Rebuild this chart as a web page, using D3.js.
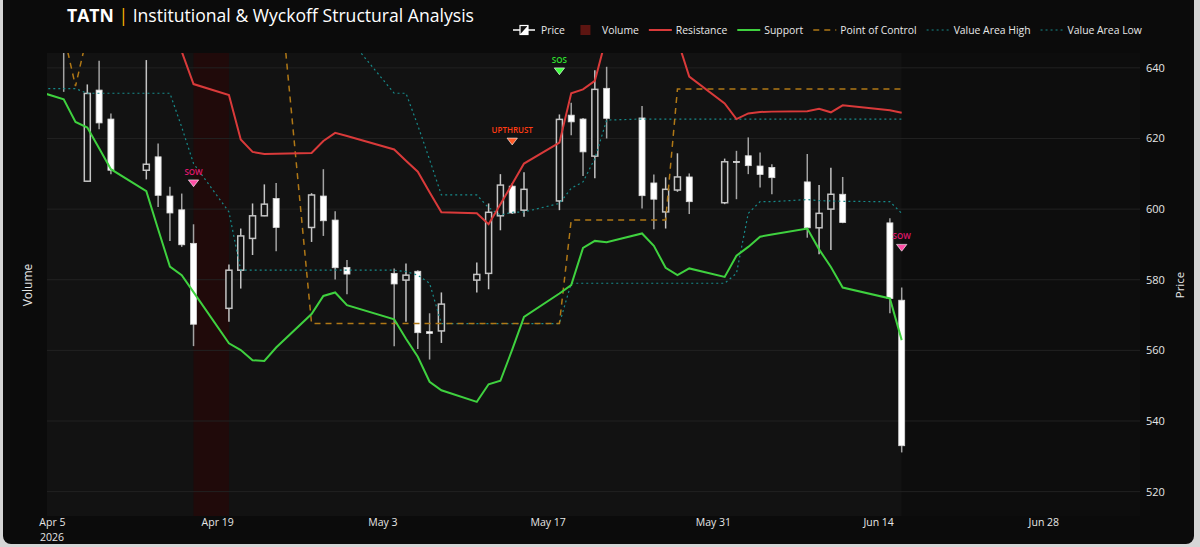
<!DOCTYPE html>
<html>
<head>
<meta charset="utf-8">
<script src="https://cdn.jsdelivr.net/npm/d3@7"></script>
<style>
  html, body { margin: 0; padding: 0; background: #d6d6d6; }
  svg { display: block; font-family: "Open Sans", "DejaVu Sans", sans-serif; }
  text { white-space: pre; }
</style>
</head>
<body>
<svg id="chart" width="1200" height="547"></svg>
<script>
// ---- data ----
const dates = [
  '2026-04-03','2026-04-06','2026-04-07','2026-04-08','2026-04-09','2026-04-10','2026-04-13','2026-04-14','2026-04-15','2026-04-16',
  '2026-04-17','2026-04-20','2026-04-21','2026-04-22','2026-04-23','2026-04-24','2026-04-27','2026-04-28','2026-04-29','2026-04-30',
  '2026-05-04','2026-05-05','2026-05-06','2026-05-07','2026-05-08','2026-05-11','2026-05-12','2026-05-13','2026-05-14','2026-05-15',
  '2026-05-18','2026-05-19','2026-05-20','2026-05-21','2026-05-22','2026-05-25','2026-05-26','2026-05-27','2026-05-28','2026-05-29',
  '2026-06-01','2026-06-02','2026-06-03','2026-06-04','2026-06-05','2026-06-08','2026-06-09','2026-06-10','2026-06-11','2026-06-15',
  '2026-06-16'
];
const opens = [
  655, 652, 650, 607.9, 633.7, 625.5, 611.0, 614.8, 603.7, 599.8,
  590.3, 571.9, 582.7, 591.7, 598.1, 603.0, 594.8, 603.7, 596.9, 583.5,
  581.8, 579.9, 582.4, 565.3, 565.5, 579.9, 581.8, 598.1, 606.5, 599.7,
  602.3, 626.6, 625.5, 615.0, 634.2, 625.8, 607.4, 599.2, 605.4, 609.1,
  601.8, 613.5, 615.1, 612.2, 611.8, 607.7, 594.7, 600.0, 604.2, 596.1,
  574.2
];
const highs = [
  661, 657, 658, 635.3, 642.0, 627.1, 642.2, 618.6, 606.3, 604.4,
  595.7, 584.3, 594.5, 601.6, 607.0, 607.4, 604.5, 611.3, 599.4, 585.6,
  583.2, 584.6, 582.7, 570.5, 576.4, 584.9, 601.6, 609.9, 607.3, 610.4,
  626.8, 630.1, 625.8, 639.3, 640.3, 629.2, 609.8, 609.0, 615.8, 610.1,
  614.3, 616.5, 620.3, 616.0, 612.7, 615.6, 606.8, 611.7, 609.1, 597.4,
  577.8
];
const lows = [
  648, 633.2, 645.5, 607.7, 622.6, 609.9, 608.4, 600.6, 591.0, 589.3,
  561.2, 568.1, 577.5, 587.0, 598.0, 588.1, 590.7, 592.4, 580.1, 575.9,
  561.2, 568.1, 560.4, 557.4, 562.1, 576.4, 577.3, 594.0, 598.6, 597.8,
  599.7, 620.9, 609.4, 608.7, 620.0, 600.2, 594.3, 594.5, 604.9, 598.6,
  601.4, 602.8, 609.9, 606.1, 604.2, 591.9, 587.2, 588.4, 596.0, 570.5,
  531.1
];
const closes = [
  652, 646, 655, 632.75, 624.4, 611.0, 612.7, 603.9, 598.9, 589.9,
  567.4, 582.7, 592.4, 598.1, 601.4, 594.8, 604.0, 596.7, 583.4, 581.6,
  578.8, 581.3, 565.0, 564.8, 573.1, 581.5, 599.1, 606.8, 598.9, 605.6,
  625.4, 624.7, 616.2, 633.9, 625.7, 603.8, 602.8, 605.6, 609.1, 602.1,
  613.4, 613.3, 612.3, 609.8, 608.9, 594.7, 598.8, 604.2, 596.2, 574.7,
  533.0
];
const resistance = [
  662, 661, 660, 660, 660, 660, 660, 660, 658, 644.6,
  635.4, 632.3, 619.7, 616.2, 615.6, 615.7, 615.9, 619.3, 621.6, 620.7,
  616.9, 613.7, 610.6, 604.8, 599.1, 598.8, 595.7, 601.4, 607.1, 612.9,
  618.8, 632.8, 633.9, 636.3, 649, 652, 652, 650, 648, 637.5,
  629.9, 625.5, 627.1, 627.5, 627.6, 627.7, 628.4, 627.4, 629.4, 628.0,
  627.3
];
const support = [
  634.2, 631.1, 624.7, 623.1, 617.2, 611.3, 605.1, 594.3, 583.7, 581.3,
  576.5, 562.0, 560.1, 557.2, 557.0, 560.8, 570.3, 575.4, 576.4, 572.8,
  568.8, 563.3, 558.2, 551.1, 548.7, 545.4, 550.4, 551.4, 560.2, 569.5,
  576.1, 578.5, 589.0, 591.0, 590.6, 593.1, 589.6, 583.4, 581.3, 583.2,
  580.8, 586.8, 589.3, 592.2, 592.8, 594.5, 588.6, 583.6, 577.8, 574.7,
  562.9
];
const pointOfControl = [
  652, 649.6, 634.8, 649.3, 673, 673, 673, 673, 673, 673,
  673, 673, 673, 673, 673, 673, 567.6, 567.6, 567.6, 567.6,
  567.6, 567.6, 567.6, 567.6, 567.6, 567.6, 567.6, 567.6, 567.6, 567.6,
  567.6, 596.9, 596.9, 596.9, 596.9, 596.9, 596.9, 596.9, 634.0, 634.0,
  634.0, 634.0, 634.0, 634.0, 634.0, 634.0, 634.0, 634.0, 634.0, 634.0,
  634.0
];
const valueAreaHigh = [
  660, 660, 660, 660, 660, 660, 660, 660, 660, 660,
  660, 660, 660, 660, 660, 660, 660, 660, 660, 649,
  632.8, 632.8, 623.7, 614.0, 604.0, 604.0, 600.4, 598.3, 599.1, 599.2,
  601.6, 605.9, 607.7, 614.3, 625.2, 625.5, 625.5, 625.5, 625.5, 625.5,
  625.5, 625.5, 625.5, 625.5, 625.5, 625.5, 625.5, 625.5, 625.5, 625.5,
  625.5
];
const valueAreaLow = [
  634.1, 634.1, 634.1, 632.8, 632.8, 632.8, 632.8, 632.8, 632.8, 623.2,
  612.9, 599.2, 582.7, 582.7, 582.7, 582.7, 582.7, 582.7, 582.7, 582.7,
  582.7, 582.3, 581.3, 579.0, 567.6, 567.6, 567.6, 567.6, 567.6, 567.6,
  567.6, 579.0, 579.0, 579.0, 579.0, 579.0, 579.0, 579.0, 579.0, 579.0,
  579.0, 581.8, 598.8, 602.1, 602.1, 602.7, 602.4, 602.3, 602.2, 602.1,
  598.8
];
// Wyckoff events
const signalDates = ['2026-04-17', '2026-05-14', '2026-05-18', '2026-06-16'];
const signalLabels = ['SOW', 'UPTHRUST', 'SOS', 'SOW'];
// high-volume span (climax bar)
const highVolumeSpan = ['2026-04-17', '2026-04-20'];
// axes
const priceTicks = [520, 540, 560, 580, 600, 620, 640];
const dateTicks = ['2026-04-05', '2026-04-19', '2026-05-03', '2026-05-17', '2026-05-31', '2026-06-14', '2026-06-28'];

// ---- layout ----
const plot = { left: 47, right: 1140, top: 53, bottom: 516 };
const parse = d3.utcParse('%Y-%m-%d');
const DAY = 864e5;
const anchor = parse('2026-04-05').getTime();

const rows = dates.map((d, i) => ({
  date: parse(d), open: opens[i], high: highs[i], low: lows[i], close: closes[i],
  res: resistance[i], sup: support[i], poc: pointOfControl[i], vah: valueAreaHigh[i], val: valueAreaLow[i]
}));

const x = d3.scaleUtc()
  .domain([new Date(anchor - 0.415 * DAY), new Date(anchor + 92.19 * DAY)])
  .range([plot.left, plot.right]);
const y = d3.scaleLinear()
  .domain([513.1, 644.2])
  .range([plot.bottom, plot.top]);

const svg = d3.select('#chart');

// card background
svg.append('rect')
  .attr('x', 3).attr('y', -8)
  .attr('width', 1191).attr('height', 552)
  .attr('rx', 8)
  .attr('fill', '#0b0b0b');

// plot background
svg.append('rect')
  .attr('x', plot.left).attr('y', plot.top)
  .attr('width', plot.right - plot.left).attr('height', plot.bottom - plot.top)
  .attr('fill', '#0d0d0d');

svg.append('clipPath').attr('id', 'clip')
  .append('rect')
  .attr('x', plot.left).attr('y', plot.top)
  .attr('width', plot.right - plot.left).attr('height', plot.bottom - plot.top);

const g = svg.append('g').attr('clip-path', 'url(#clip)');

// volume area (faint) up to last session
g.append('rect')
  .attr('x', plot.left).attr('y', plot.top)
  .attr('width', x(rows[rows.length - 1].date) - plot.left)
  .attr('height', plot.bottom - plot.top)
  .attr('fill', '#121212');

// high volume span
g.append('rect')
  .attr('x', x(parse(highVolumeSpan[0])))
  .attr('y', plot.top)
  .attr('width', x(parse(highVolumeSpan[1])) - x(parse(highVolumeSpan[0])))
  .attr('height', plot.bottom - plot.top)
  .attr('fill', '#200a0a');

// grid
g.selectAll('.grid')
  .data(priceTicks)
  .join('line')
  .attr('class', 'grid')
  .attr('x1', plot.left).attr('x2', plot.right)
  .attr('y1', d => y(d)).attr('y2', d => y(d))
  .attr('stroke', '#222')
  .attr('stroke-width', 1);

// level lines
const lineOf = key => d3.line().x(d => x(d.date)).y(d => y(d[key]));

const levels = [
  { key: 'vah', color: '#178a8a', width: 1.2, dash: '2,3' },
  { key: 'val', color: '#178a8a', width: 1.2, dash: '2,3' },
  { key: 'poc', color: '#b07816', width: 1.5, dash: '6,5' },
  { key: 'res', color: '#d93a3a', width: 2, dash: null },
  { key: 'sup', color: '#3fd13f', width: 2, dash: null }
];

// candles
const candles = g.append('g');
const bodyW = 6;
rows.forEach(d => {
  const up = d.close >= d.open;
  const cx = x(d.date);
  candles.append('line')
    .attr('x1', cx).attr('x2', cx)
    .attr('y1', y(d.high)).attr('y2', y(d.low))
    .attr('stroke', up ? '#c4c4c4' : '#a3a3a3')
    .attr('stroke-width', 1.5);
  const top = y(Math.max(d.open, d.close));
  const bot = y(Math.min(d.open, d.close));
  candles.append('rect')
    .attr('x', cx - bodyW / 2).attr('y', top)
    .attr('width', bodyW).attr('height', Math.max(bot - top, 1))
    .attr('fill', up ? '#121212' : '#ffffff')
    .attr('stroke', up ? '#c4c4c4' : '#d8d8d8')
    .attr('stroke-width', up ? 1.5 : 0.8);
});

levels.forEach(l => {
  g.append('path')
    .datum(rows)
    .attr('d', lineOf(l.key))
    .attr('fill', 'none')
    .attr('stroke', l.color)
    .attr('stroke-width', l.width)
    .attr('stroke-dasharray', l.dash);
});

// signals
const signalStyle = {
  SOW: { marker: '#ff4fa6', text: '#e0176d' },
  UPTHRUST: { marker: '#ff5a26', text: '#ff3b12' },
  SOS: { marker: '#3dff3d', text: '#2fe02f' }
};
const tri = 'M-5.2,-2.3L5.2,-2.3L0,4.5Z';
signalDates.forEach((sd, i) => {
  const row = rows.find(r => +r.date === +parse(sd));
  const st = signalStyle[signalLabels[i]];
  const sx = x(row.date), sy = y(row.high * 1.02);
  svg.append('path')
    .attr('d', tri)
    .attr('transform', `translate(${sx},${sy})`)
    .attr('fill', st.marker)
    .attr('stroke', '#ffffff')
    .attr('stroke-width', 0.6);
  svg.append('text')
    .attr('x', sx).attr('y', sy - 7.5)
    .attr('text-anchor', 'middle')
    .style('font-size', '8px')
    .style('font-weight', '600')
    .attr('fill', st.text)
    .text(signalLabels[i]);
});

// axes
const yAxis = svg.append('g')
  .attr('transform', `translate(${plot.right},0)`)
  .call(d3.axisRight(y).tickValues(priceTicks).tickSize(0).tickPadding(6));
yAxis.select('.domain').remove();
yAxis.selectAll('text').attr('fill', '#e6e6e6').style('font-size', '11px').style('font-family', '"Open Sans", sans-serif');

const xAxis = svg.append('g')
  .attr('transform', `translate(0,${plot.bottom})`)
  .call(d3.axisBottom(x).tickValues(dateTicks.map(parse)).tickSize(0).tickPadding(3)
    .tickFormat(d3.utcFormat('%b %-d')));
xAxis.select('.domain').remove();
xAxis.selectAll('text').attr('fill', '#e6e6e6').style('font-size', '10.5px').style('font-family', '"Open Sans", sans-serif');
xAxis.append('text')
  .attr('x', x(parse(dateTicks[0]))).attr('y', 25)
  .attr('text-anchor', 'middle')
  .attr('fill', '#e6e6e6')
  .style('font-size', '10.5px')
  .style('font-family', '"Open Sans", sans-serif')
  .text('2026');

// axis titles
svg.append('text')
  .attr('transform', 'translate(1184,285) rotate(-90)')
  .attr('text-anchor', 'middle')
  .attr('fill', '#e6e6e6')
  .style('font-size', '11.5px')
  .text('Price');
svg.append('text')
  .attr('transform', 'translate(32,285) rotate(-90)')
  .attr('text-anchor', 'middle')
  .attr('fill', '#e6e6e6')
  .style('font-size', '12px')
  .text('Volume');

// title
const title = svg.append('text')
  .attr('x', 67).attr('y', 22)
  .attr('fill', '#ffffff')
  .style('font-size', '17.6px');
title.append('tspan').style('font-weight', '700').text('TATN');
title.append('tspan').attr('fill', '#f5b400').text(' | ');
title.append('tspan').text('Institutional & Wyckoff Structural Analysis');

// legend
const legendItems = [
  { name: 'Price', kind: 'candle' },
  { name: 'Volume', kind: 'bar', color: '#5c1511' },
  { name: 'Resistance', kind: 'line', color: '#d93a3a', width: 2, dash: null },
  { name: 'Support', kind: 'line', color: '#3fd13f', width: 2, dash: null },
  { name: 'Point of Control', kind: 'line', color: '#b07816', width: 1.5, dash: '6,5' },
  { name: 'Value Area High', kind: 'line', color: '#178a8a', width: 1.2, dash: '2,3' },
  { name: 'Value Area Low', kind: 'line', color: '#178a8a', width: 1.2, dash: '2,3' }
];
const legend = svg.append('g');
let tx = 541;
const ly = 30;
legendItems.forEach(item => {
  const it = legend.append('g');
  if (item.kind === 'candle') {
    it.append('line').attr('x1', tx - 28).attr('x2', tx - 21).attr('y1', ly).attr('y2', ly).attr('stroke', '#fff').attr('stroke-width', 1.5);
    it.append('line').attr('x1', tx - 13).attr('x2', tx - 6).attr('y1', ly).attr('y2', ly).attr('stroke', '#fff').attr('stroke-width', 1.5);
    it.append('rect').attr('x', tx - 21).attr('y', ly - 4.5).attr('width', 8).attr('height', 9)
      .attr('fill', '#111').attr('stroke', '#fff').attr('stroke-width', 1.2);
    it.append('path').attr('d', `M${tx - 13},${ly - 4.5}L${tx - 13},${ly + 4.5}L${tx - 21},${ly + 4.5}Z`).attr('fill', '#fff');
  } else if (item.kind === 'bar') {
    it.append('rect').attr('x', tx - 21.5).attr('y', ly - 5).attr('width', 10).attr('height', 10).attr('fill', item.color);
  } else {
    it.append('line').attr('x1', tx - 27).attr('x2', tx - 4).attr('y1', ly).attr('y2', ly)
      .attr('stroke', item.color).attr('stroke-width', item.width).attr('stroke-dasharray', item.dash);
  }
  const t = it.append('text')
    .attr('x', tx).attr('y', ly + 4)
    .attr('fill', '#e8e8e8')
    .style('font-size', '10.4px')
    .text(item.name);
  tx += t.node().getComputedTextLength() + 37;
});
</script>
</body>
</html>
